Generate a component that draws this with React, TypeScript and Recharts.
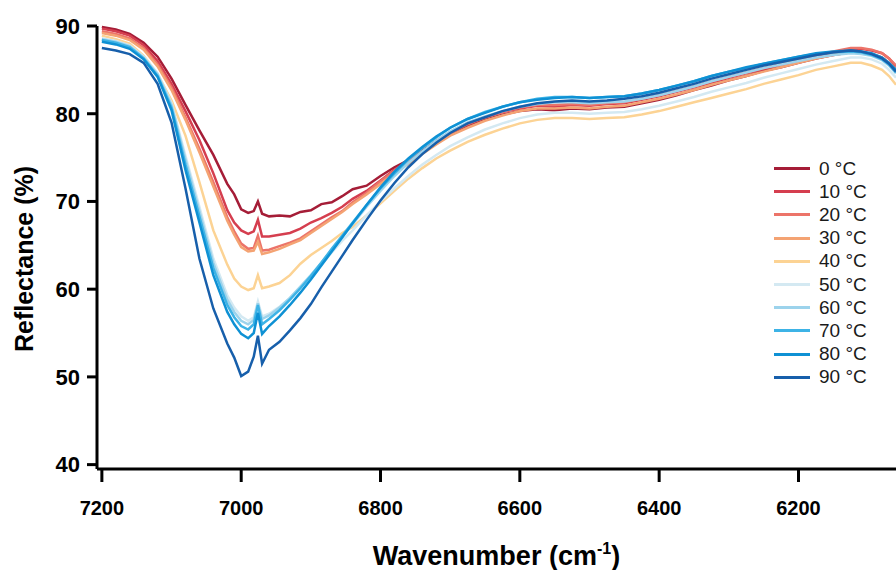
import React from "react";
import { LineChart, Line, XAxis, YAxis } from "recharts";

// wavenumber grid (cm-1)
const wavenumbers = [
  7200, 7180, 7160, 7140, 7120, 7100, 7080, 7060, 7040, 7020,
  7010, 7000, 6990, 6982, 6976, 6970, 6960,
  6945, 6930, 6915, 6900, 6885, 6870, 6855, 6840,
  6820, 6800, 6780, 6760, 6740, 6720, 6700,
  6675, 6650, 6625, 6600, 6575, 6550, 6525, 6500, 6475, 6450, 6425, 6400,
  6375, 6350, 6325, 6300, 6275, 6250, 6225, 6200, 6175, 6150, 6125,
  6110, 6095, 6080, 6070, 6060,
];

const t0 = [
  89.9, 89.6, 89.1, 88.1, 86.5, 84.0, 81.0, 78.1, 75.3, 72.0,
  70.8, 69.1, 68.7, 68.9, 70.0, 68.6, 68.3,
  68.4, 68.3, 68.8, 69.0, 69.7, 69.9, 70.6, 71.4,
  71.8, 72.9, 73.9, 74.7, 75.8, 76.8, 77.6,
  78.6, 79.3, 79.9, 80.3, 80.5, 80.4, 80.6, 80.5, 80.7, 80.8, 81.2, 81.6,
  82.1, 82.7, 83.2, 83.8, 84.3, 84.9, 85.3, 85.8, 86.3, 86.7, 87.0,
  87.0, 86.8, 86.4, 85.8, 85.0,
];
const t10 = [
  89.7, 89.4, 88.9, 87.8, 86.0, 83.4, 80.3, 77.0, 73.2, 69.0,
  67.6, 66.7, 66.3, 66.6, 67.9, 66.0, 66.0,
  66.2, 66.4, 66.9, 67.6, 68.1, 68.7, 69.4, 70.3,
  71.2, 72.4, 73.6, 74.6, 75.7, 76.9, 77.9,
  78.9, 79.6, 80.2, 80.6, 80.9, 80.8, 81.0, 80.9, 81.1, 81.2, 81.6, 82.0,
  82.5, 83.0, 83.5, 84.1, 84.6, 85.1, 85.6, 86.1, 86.6, 87.0, 87.4,
  87.4, 87.2, 86.9, 86.3, 85.4,
];
const t20 = [
  89.4, 89.1, 88.6, 87.5, 85.6, 83.0, 79.6, 76.0, 72.2, 68.2,
  66.6, 65.2, 64.6, 64.7, 66.1, 64.4, 64.5,
  64.9, 65.3, 65.8, 66.6, 67.4, 68.2, 68.9, 69.9,
  71.0, 72.3, 73.5, 74.6, 75.7, 76.8, 77.8,
  78.8, 79.6, 80.2, 80.7, 81.0, 81.0, 81.1, 81.0, 81.2, 81.3, 81.7, 82.1,
  82.6, 83.1, 83.7, 84.2, 84.7, 85.2, 85.7, 86.2, 86.7, 87.1, 87.5,
  87.5, 87.3, 86.9, 86.3, 85.5,
];
const t30 = [
  89.2, 88.9, 88.4, 87.3, 85.4, 82.7, 79.3, 75.6, 71.7, 67.8,
  66.2, 64.8, 64.3, 64.4, 65.4, 64.0, 64.2,
  64.6, 65.1, 65.6, 66.4, 67.2, 68.0, 68.8, 69.7,
  70.8, 72.0, 73.2, 74.3, 75.4, 76.5, 77.5,
  78.4, 79.2, 79.8, 80.3, 80.6, 80.6, 80.7, 80.6, 80.8, 80.9, 81.3, 81.7,
  82.2, 82.7, 83.3, 83.8, 84.3, 84.8, 85.3, 85.8, 86.3, 86.7, 87.0,
  87.0, 86.8, 86.4, 85.8, 85.0,
];
const t40 = [
  88.9, 88.5, 88.0, 86.6, 84.5, 81.5, 77.5, 72.2, 66.7, 62.8,
  61.2, 60.3, 59.9, 60.1, 61.6, 60.1, 60.3,
  60.7, 61.6, 62.9, 63.9, 64.7, 65.5, 66.4, 67.1,
  68.4, 69.8, 71.2, 72.6, 73.8, 74.9, 75.8,
  76.8, 77.6, 78.3, 78.9, 79.3, 79.5, 79.5, 79.4, 79.5, 79.6, 79.9, 80.3,
  80.8, 81.3, 81.8, 82.3, 82.8, 83.4, 83.9, 84.4, 85.0, 85.4, 85.8,
  85.8, 85.5, 85.0, 84.3, 83.3,
];
const t50 = [
  88.6, 88.3, 87.8, 86.5, 84.6, 81.2, 75.2, 69.4, 63.5, 59.3,
  57.9, 56.9, 56.4, 56.8, 58.6, 56.9, 57.2,
  58.0, 59.0, 60.2, 61.5, 62.8, 64.2, 65.5, 66.7,
  68.4, 70.0, 71.5, 72.9, 74.2, 75.3, 76.3,
  77.3, 78.2, 78.9, 79.5, 79.9, 80.1, 80.1, 80.0, 80.1, 80.2, 80.5, 80.9,
  81.4, 81.9, 82.5, 83.0, 83.5, 84.1, 84.6, 85.1, 85.6, 86.0, 86.4,
  86.4, 86.2, 85.7, 85.0, 84.1,
];
const t60 = [
  88.5, 88.2, 87.7, 86.4, 84.5, 81.0, 74.8, 68.9, 63.0, 58.8,
  57.4, 56.4, 56.0, 56.5, 58.4, 56.6, 57.0,
  57.9, 59.0, 60.3, 61.6, 63.0, 64.5, 66.0, 67.4,
  69.4, 71.2, 72.9, 74.4, 75.7, 76.9, 78.0,
  79.0, 79.7, 80.3, 80.8, 81.1, 81.3, 81.3, 81.2, 81.3, 81.4, 81.7, 82.1,
  82.6, 83.1, 83.7, 84.2, 84.7, 85.2, 85.6, 86.0, 86.4, 86.7, 86.9,
  86.8, 86.6, 86.1, 85.5, 84.6,
];
const t70 = [
  88.4, 88.1, 87.6, 86.3, 84.3, 80.7, 74.2, 68.3, 62.4, 58.2,
  56.8, 55.8, 55.4, 56.0, 58.2, 56.0, 56.6,
  57.6, 58.8, 60.1, 61.5, 63.0, 64.6, 66.1, 67.6,
  69.6, 71.5, 73.2, 74.8, 76.1, 77.3, 78.4,
  79.4, 80.2, 80.8, 81.3, 81.7, 81.9, 81.9, 81.8, 81.9, 82.0, 82.3, 82.7,
  83.2, 83.7, 84.3, 84.8, 85.2, 85.7, 86.1, 86.5, 86.8, 87.0, 87.1,
  87.0, 86.7, 86.2, 85.6, 84.7,
];
const t80 = [
  88.2, 87.9, 87.4, 86.2, 84.2, 80.4, 73.6, 67.6, 61.6, 57.4,
  56.0, 54.9, 54.4, 55.0, 57.3, 54.9, 55.8,
  56.9, 58.2, 59.6, 61.1, 62.7, 64.3, 65.9, 67.5,
  69.6, 71.6, 73.4, 74.9, 76.2, 77.4, 78.4,
  79.4, 80.1, 80.8, 81.3, 81.6, 81.8, 81.9, 81.8, 81.9, 82.0, 82.3, 82.7,
  83.2, 83.7, 84.3, 84.8, 85.3, 85.7, 86.1, 86.5, 86.9, 87.1, 87.2,
  87.1, 86.9, 86.4, 85.8, 85.0,
];
const t90 = [
  87.5, 87.2, 86.8, 85.8, 83.4, 79.0, 71.5, 63.5, 57.8, 53.8,
  52.2, 50.1, 50.6, 52.3, 54.7, 51.5, 53.1,
  54.0, 55.3, 56.7, 58.3, 60.2, 62.0, 63.8, 65.6,
  67.9, 70.1, 72.1, 73.9, 75.4, 76.7, 77.8,
  78.9, 79.6, 80.3, 80.8, 81.2, 81.4, 81.5, 81.4, 81.5, 81.7, 82.0, 82.4,
  82.9, 83.4, 84.0, 84.5, 85.0, 85.5, 85.9, 86.3, 86.7, 87.0, 87.2,
  87.1, 86.8, 86.3, 85.7, 84.8,
];

const seriesNames = ["0 °C", "10 °C", "20 °C", "30 °C", "40 °C", "50 °C", "60 °C", "70 °C", "80 °C", "90 °C"];
const seriesValues = [t0, t10, t20, t30, t40, t50, t60, t70, t80, t90];
const seriesColors = [
  "#a51d37", "#d53e4f", "#ec7469", "#f4a373", "#fcd394",
  "#d4e9f2", "#9cd3ec", "#3db3e6", "#0e91d4", "#175fab",
];

const xTicks = [7200, 7000, 6800, 6600, 6400, 6200];
const yTicks = [40, 50, 60, 70, 80, 90];

const data = wavenumbers.map((w, i) => {
  const row: Record<string, number> = { w };
  seriesValues.forEach((vals, k) => {
    row["s" + k] = vals[i];
  });
  return row;
});

const font = '"Liberation Sans", Arial, sans-serif';

function XTitle(props: any) {
  const { viewBox } = props;
  const cx = viewBox.x + viewBox.width / 2;
  return (
    <text x={cx} y={565} textAnchor="middle" fontFamily={font} fontWeight="bold" fontSize={27} fill="#000">
      Wavenumber (cm
      <tspan dy={-11} fontSize={16}>-1</tspan>
      <tspan dy={11}>)</tspan>
    </text>
  );
}

function YTitle() {
  return (
    <text
      transform="translate(33,259) rotate(-90)"
      textAnchor="middle"
      fontFamily={font}
      fontWeight="bold"
      fontSize={25}
      fill="#000"
    >
      Reflectance (%)
    </text>
  );
}

export default function App() {
  return (
    <div style={{ position: "absolute", left: 0, top: 0, width: 896, height: 570, background: "#fff" }}>
      <LineChart width={896} height={570} data={data} margin={{ top: 26, right: 0, bottom: 0, left: 0 }}>
        <XAxis
          dataKey="w"
          type="number"
          reversed
          domain={[6060, 7207]}
          allowDataOverflow
          ticks={xTicks}
          height={101}
          axisLine={{ stroke: "#000", strokeWidth: 3 }}
          tickLine={{ stroke: "#000", strokeWidth: 3 }}
          tickSize={13}
          tickMargin={19}
          tick={{ fontSize: 20, fontWeight: "bold", fill: "#000", fontFamily: font }}
          label={{ content: XTitle }}
        />
        <YAxis
          type="number"
          domain={[39.5, 90]}
          ticks={yTicks}
          width={97}
          axisLine={{ stroke: "#000", strokeWidth: 3 }}
          tickLine={{ stroke: "#000", strokeWidth: 3 }}
          tickSize={10}
          tickMargin={7}
          tick={{ fontSize: 22, fontWeight: "bold", fill: "#000", fontFamily: font }}
          label={{ content: YTitle }}
        />
        {seriesNames.map((name, k) => (
          <Line
            key={name}
            name={name}
            dataKey={"s" + k}
            type="linear"
            stroke={seriesColors[k]}
            strokeWidth={2.5}
            dot={false}
            isAnimationActive={false}
          />
        ))}
      </LineChart>
      <div style={{ position: "absolute", left: 774, top: 157, fontFamily: font, fontSize: 19, color: "#1a1a1a" }}>
        {seriesNames.map((name, k) => (
          <div key={name} style={{ height: 23.2, display: "flex", alignItems: "center" }}>
            <span style={{ display: "inline-block", width: 36, height: 3, background: seriesColors[k], marginRight: 9 }} />
            <span>{name}</span>
          </div>
        ))}
      </div>
    </div>
  );
}
